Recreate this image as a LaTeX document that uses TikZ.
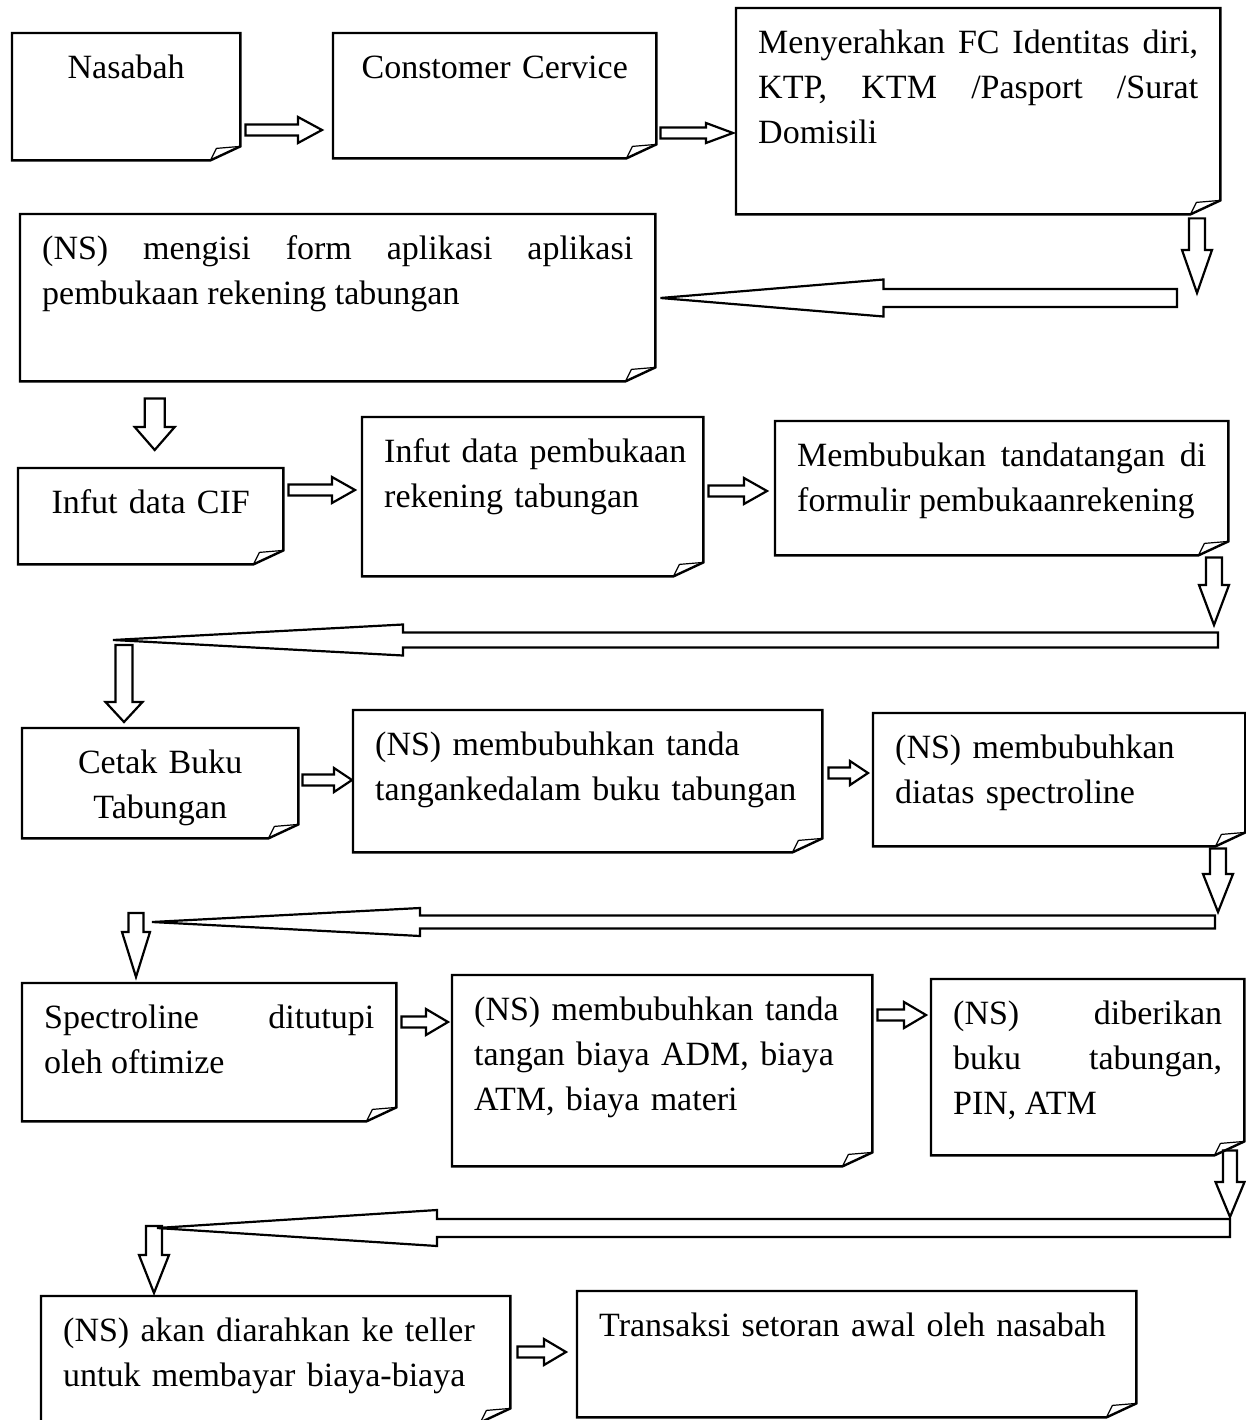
\documentclass[tikz,border=0pt]{standalone}
\usepackage{fontspec}
\setmainfont{Liberation Serif}
\usetikzlibrary{calc,positioning}
\newcommand\bodyfont{\fontsize{34pt}{45pt}\selectfont}

\tikzset{
  note/.style 2 args={anchor=north west, inner xsep=22pt, inner ysep=13.5pt,
    text width=#1pt-44pt, text height=31.5pt, text depth=#2pt-58.5pt,
    align=justify, font=\bodyfont},
  outline/.style={line width=2.4pt, line join=miter},
  fold/.style={line width=1.2pt},
  arrbar/.store in=\arrbar, arrhead/.store in=\arrhead, arrtip/.store in=\arrtip,
  arrgapa/.store in=\arrgapa, arrgapb/.store in=\arrgapb,
  fat/.style={draw, line width=2.2pt, arrbar=5.5pt, arrhead=13pt, arrtip=23pt,
    arrgapa=5pt, arrgapb=6pt,
    to path={let \p1=(\tikztostart), \p2=(\tikztotarget),
      \n1={atan2(\y2-\y1,\x2-\x1)}, \n2={veclen(\x2-\x1,\y2-\y1)-\arrgapb}
      in {[shift={(\p1)}, rotate=\n1]
        (\arrgapa,-\arrbar) -- ({\n2-\arrtip},-\arrbar) -- ({\n2-\arrtip},-\arrhead)
        -- (\n2,0pt) -- ({\n2-\arrtip},\arrhead) -- ({\n2-\arrtip},\arrbar)
        -- (\arrgapa,\arrbar) -- cycle}}},
  drop/.style={fat, arrbar=8pt, arrhead=15pt, arrgapa=0pt, arrgapb=0pt},
  back/.style={fat, arrbar=8pt, arrhead=16pt, arrgapa=0pt, arrgapb=0pt},
}

\begin{document}
\begin{tikzpicture}[x=1pt, y=-1pt]
  \useasboundingbox (0,0) rectangle (1246,1420);

  % boxes
  \node[note={228}{127}, align=center] (nasabah) at (12,33) {Nasabah};
  \node[note={323}{125}, align=center] (service) at (333,33) {Constomer Cervice};
  \node[note={484}{206}] (menyer) at (736,8) {Menyerahkan FC Identitas diri,\linebreak KTP, KTM /Pasport /Surat\linebreak Domisili};
  \node[note={635}{167}] (nsform) at (20,214) {(NS) mengisi form aplikasi aplikasi\linebreak pembukaan rekening tabungan};
  \node[note={265}{96}, align=center] (cif) at (18,468) {Infut data CIF};
  \node[note={341}{159}, align=left] (infut) at (362,417) {\mbox{Infut data pembukaan}\\rekening tabungan};
  \node[note={453}{134}] (memb) at (775,421) {Membubukan tandatangan di\linebreak formulir pembukaanrekening};
  \node[note={276}{110}, align=center] (cetak) at (22,728) {Cetak Buku\\Tabungan};
  \node[note={469}{142}, align=left] (nstanda) at (353,710) {(NS) membubuhkan tanda\\tangankedalam buku tabungan};
  \node[note={372}{133}, align=left] (spectro) at (873,713) {(NS) membubuhkan\\diatas spectroline};
  \node[note={374}{138}] (tutup) at (22,983) {Spectroline ditutupi\linebreak oleh oftimize};
  \node[note={420}{191}, align=left] (biaya) at (452,975) {(NS) membubuhkan tanda\\tangan biaya ADM, biaya\\ATM, biaya materi};
  \node[note={313}{176}] (beri) at (931,979) {(NS) diberikan\linebreak buku tabungan,\linebreak PIN, ATM};
  \node[note={469}{126}, align=left] (akan) at (41,1296) {(NS) akan diarahkan ke teller\\untuk membayar biaya-biaya};
  \node[note={559}{126}, align=left] (transaksi) at (577,1291) {Transaksi setoran awal oleh nasabah};

  % folded corners
  \foreach \nm in {nasabah,service,menyer,nsform,cif,infut,memb,cetak,nstanda,spectro,tutup,biaya,beri,akan,transaksi}{
    \draw[outline] (\nm.north west) -- (\nm.north east) -- ([yshift=14pt]\nm.south east)
      -- ([xshift=-30pt]\nm.south east) -- (\nm.south west) -- cycle;
    \draw[fold] ([xshift=-30pt]\nm.south east) -- ([xshift=-24pt,yshift=12pt]\nm.south east)
      -- ([yshift=14pt]\nm.south east);
  }

  % turning points
  \coordinate (u1) at (1197,293);
  \coordinate (r1) at (1177,298);
  \coordinate (u2) at (1214,625);
  \coordinate (r2) at (1218,640);
  \coordinate (l2) at (113,640);
  \coordinate (d2) at (124,645);
  \coordinate (u3) at (1218,912);
  \coordinate (r3) at (1215,922);
  \coordinate (l3) at (152,922);
  \coordinate (d3) at (136,913);
  \coordinate (u4) at (1230,1217);
  \coordinate (r4) at (1230,1228);
  \coordinate (l4) at (157,1228);
  \coordinate (d4) at (154,1226);

  % row 1
  \draw[fat, arrgapa=5pt, arrgapb=11pt, arrtip=24pt] (nasabah.east |- 0,130) to (service.west |- 0,130);
  \draw[fat, arrgapa=4pt, arrgapb=3pt, arrtip=27pt, arrhead=10pt] (service.east |- 0,133) to (menyer.west |- 0,133);
  \draw[drop, arrtip=43pt, arrgapa=4pt] (menyer.south -| u1) to (u1);
  \draw[back, arrbar=9pt, arrhead=18.5pt, arrtip=223pt, arrgapb=5pt] (r1) to (nsform.east |- r1);
  \draw[drop, arrbar=10pt, arrhead=20pt, arrtip=23pt, arrgapa=17pt, arrgapb=18pt] ([xshift=4pt]nsform.south -| cif.north) to ([xshift=4pt]cif.north);

  % row 3
  \draw[fat, arrgapa=5pt, arrgapb=7pt] (cif.east |- 0,490) to (infut.west |- 0,490);
  \draw[fat, arrgapa=5pt, arrgapb=8pt] (infut.east |- 0,491) to (memb.west |- 0,491);
  \draw[drop, arrtip=40pt, arrgapa=2pt] (memb.south -| u2) to (u2);
  \draw[back, arrbar=7.5pt, arrhead=15.5pt, arrtip=290pt] (r2) to (l2);
  \draw[drop, arrbar=8.5pt, arrhead=18.5pt, arrtip=20pt, arrgapb=6pt] (d2) to (d2 |- cetak.north);

  % row 4
  \draw[fat, arrgapa=4pt, arrgapb=1pt, arrtip=18pt, arrhead=12pt] (cetak.east |- 0,780) to (nstanda.west |- 0,780);
  \draw[fat, arrgapa=6pt, arrgapb=5pt, arrtip=18pt, arrhead=12pt] (nstanda.east |- 0,773) to (spectro.west |- 0,773);
  \draw[drop, arrtip=38pt, arrgapa=2pt] (spectro.south -| u3) to (u3);
  \draw[back, arrbar=6.5pt, arrhead=14pt, arrtip=268pt] (r3) to (l3);
  \draw[drop, arrbar=7.5pt, arrhead=14pt, arrtip=45pt, arrgapb=6pt] (d3) to (d3 |- tutup.north);

  % row 5
  \draw[fat, arrgapa=5pt, arrgapb=4pt, arrtip=22pt] (tutup.east |- 0,1022) to (biaya.west |- 0,1022);
  \draw[fat, arrgapa=5pt, arrgapb=5pt, arrtip=22pt] (biaya.east |- 0,1015) to (beri.west |- 0,1015);
  \draw[drop, arrbar=7pt, arrhead=14.5pt, arrtip=35pt, arrgapa=-5pt] (beri.south -| u4) to (u4);
  \draw[back, arrbar=9pt, arrhead=18pt, arrtip=280pt] (r4) to (l4);
  \draw[drop, arrtip=38pt, arrgapb=3pt] (d4) to (d4 |- akan.north);

  % row 6
  \draw[fat, arrgapa=7pt, arrgapb=11pt, arrtip=22pt] (akan.east |- 0,1352) to (transaksi.west |- 0,1352);
\end{tikzpicture}
\end{document}
